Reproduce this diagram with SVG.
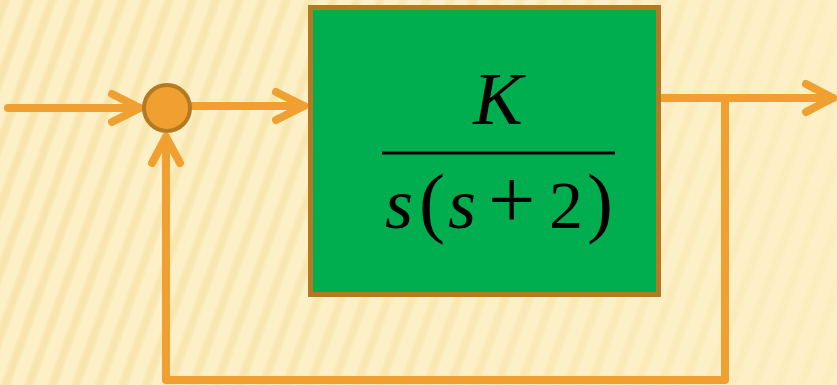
<svg xmlns="http://www.w3.org/2000/svg" width="837" height="385" viewBox="0 0 837 385">
  <defs>
    <pattern id="stripes" width="22" height="40" patternUnits="userSpaceOnUse" patternTransform="rotate(20)">
      <rect width="22" height="40" fill="#FDF0C6"/>
      <rect x="2" width="6" height="40" fill="#F6E2A6" opacity="0.8"/>
      <rect x="0" width="2" height="40" fill="#F9E8B4" opacity="0.8"/>
      <rect x="8" width="2" height="40" fill="#F9E8B4" opacity="0.8"/>
    </pattern>
    <linearGradient id="fade" x1="0" y1="0" x2="1" y2="0">
      <stop offset="0" stop-color="#FDF0C6" stop-opacity="0"/>
      <stop offset="0.55" stop-color="#FDF0C6" stop-opacity="0.3"/>
      <stop offset="1" stop-color="#FDF0C6" stop-opacity="0.75"/>
    </linearGradient>
    <style>
      .wire { fill: none; stroke: #F0A030; stroke-width: 8; stroke-linecap: round; stroke-linejoin: round; }
      .head { fill: none; stroke: #F0A030; stroke-width: 8; stroke-linecap: round; stroke-linejoin: round; }
      .math { font-family: "Liberation Serif", "Times New Roman", serif; fill: #000; }
      .it { font-style: italic; }
    </style>
  </defs>

  <rect width="837" height="385" fill="url(#stripes)"/>
  <rect width="837" height="385" fill="url(#fade)"/>

  <g id="connectors">
    <!-- input -->
    <path class="wire" d="M8 108 H140"/>
    <path class="head" d="M112 94 L140 108 L112 122"/>
    <!-- sum to block -->
    <path class="wire" d="M192 106 H304"/>
    <path class="head" d="M276 92 L304 106 L276 120"/>
    <!-- output -->
    <path class="wire" d="M660 98 H833"/>
    <path class="head" d="M806 84 L833 98 L806 112"/>
    <!-- feedback -->
    <path class="wire" d="M725 98 V380 H166 V137"/>
    <path class="head" d="M152 163 L166 137 L180 163"/>
  </g>

  <g id="sum">
    <circle cx="167" cy="108" r="23" fill="#F0A030" stroke="#B47A21" stroke-width="4"/>
  </g>

  <g id="block">
    <rect x="310.5" y="7.5" width="348" height="287" fill="#00AE50" stroke="#B47A21" stroke-width="5"/>
    <text class="math it" x="498" y="124" font-size="74" text-anchor="middle">K</text>
    <rect x="382" y="151.5" width="233" height="3" fill="#000"/>
    <text class="math" y="228">
      <tspan class="it" x="385" font-size="72">s</tspan><tspan x="419" font-size="78">(</tspan><tspan class="it" x="448" font-size="72">s</tspan><tspan x="488" font-size="84">+</tspan><tspan x="549" font-size="68">2</tspan><tspan x="587" font-size="78">)</tspan>
    </text>
  </g>
</svg>
